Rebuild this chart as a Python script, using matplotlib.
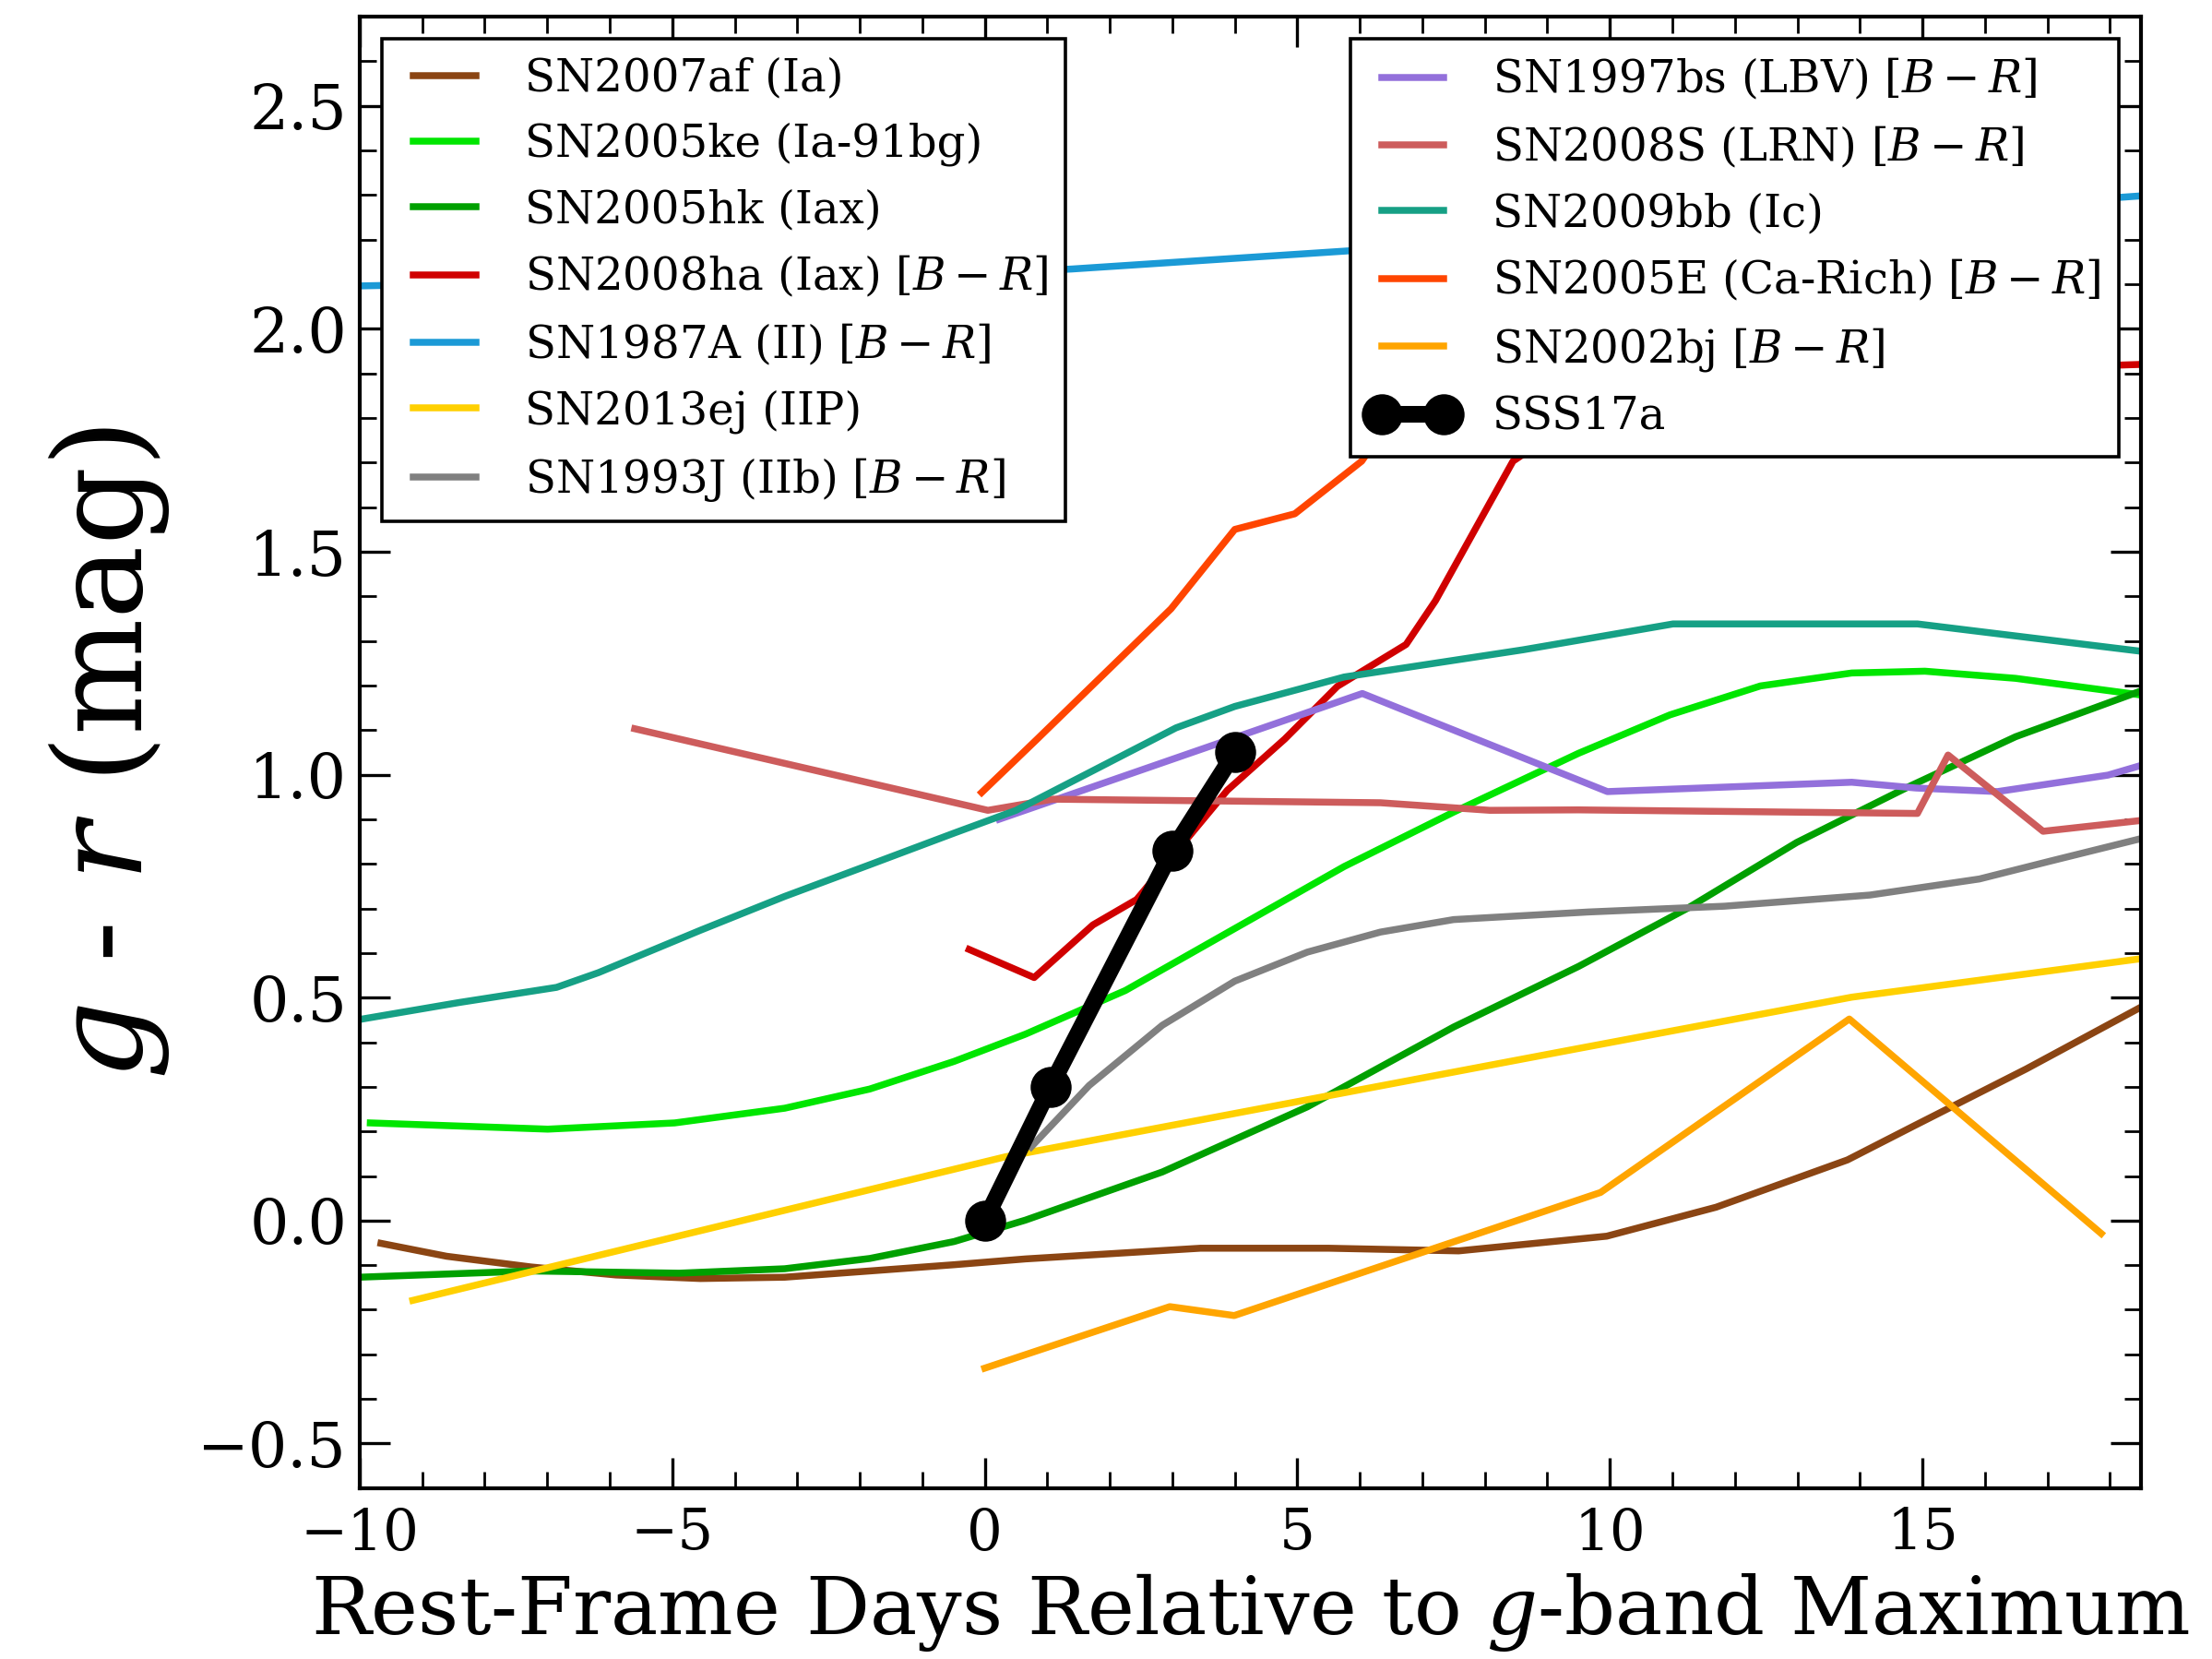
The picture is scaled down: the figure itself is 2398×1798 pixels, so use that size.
import matplotlib
matplotlib.use("Agg")
import matplotlib.pyplot as plt
from matplotlib.ticker import MultipleLocator

plt.rcParams['font.family'] = 'DejaVu Serif'
plt.rcParams['mathtext.fontset'] = 'dejavuserif'

# colour curves (days, g-r mag)
x_07af = [-9.66, -8.61, -7.26, -5.9, -4.55, -3.2, -1.84, -0.49, 0.65, 3.45, 5.5, 7.58, 9.95, 11.7, 13.8, 14.86, 16.66, 18.5]
y_07af = [-0.051, -0.08, -0.104, -0.122, -0.13, -0.127, -0.113, -0.099, -0.086, -0.062, -0.062, -0.068, -0.035, 0.03, 0.136, 0.212, 0.34, 0.479]

x_05ke = [-9.83, -6.99, -4.96, -3.2, -1.84, -0.49, 0.65, 2.25, 4.0, 5.75, 7.5, 9.5, 10.96, 12.41, 13.87, 15.04, 16.49, 18.48]
y_05ke = [0.219, 0.205, 0.219, 0.252, 0.295, 0.357, 0.418, 0.516, 0.655, 0.794, 0.916, 1.048, 1.134, 1.199, 1.228, 1.232, 1.216, 1.179]

x_05hk = [-10, -7.26, -4.89, -3.2, -1.84, -0.49, 0.65, 2.84, 5.16, 7.5, 9.5, 11.25, 12.99, 14.75, 16.49, 18.48]
y_05hk = [-0.127, -0.113, -0.118, -0.108, -0.085, -0.047, 0.001, 0.109, 0.255, 0.434, 0.57, 0.701, 0.848, 0.971, 1.085, 1.187]

x_08ha = [-0.25, 0.79, 1.73, 2.43, 3.88, 4.8, 5.64, 6.74, 7.21, 8.45, 10.0, 14.0, 18.5]
y_08ha = [0.608, 0.545, 0.663, 0.72, 0.965, 1.08, 1.198, 1.292, 1.39, 1.703, 1.85, 1.9, 1.92]

x_87A = [-10, -5, 0, 1.4, 5.75, 10, 15, 18.5]
y_87A = [2.096, 2.11, 2.124, 2.134, 2.174, 2.215, 2.263, 2.298]

x_13ej = [-9.15, 0.33, 5.16, 9.5, 13.87, 18.48]
y_13ej = [-0.179, 0.143, 0.271, 0.386, 0.501, 0.587]

x_93J = [0.74, 1.67, 2.84, 4.0, 5.16, 6.33, 7.5, 9.65, 11.83, 14.16, 15.91, 17.07, 18.48]
y_93J = [0.165, 0.303, 0.438, 0.537, 0.602, 0.647, 0.675, 0.692, 0.705, 0.73, 0.766, 0.807, 0.856]

x_97bs = [0.23, 6.04, 9.96, 13.87, 14.9, 16.2, 17.97, 18.48]
y_97bs = [0.9, 1.182, 0.962, 0.983, 0.97, 0.962, 0.999, 1.02]

x_08S = [-5.6, 0.05, 1.09, 6.33, 8.08, 9.5, 14.92, 15.41, 16.93, 18.48]
y_08S = [1.103, 0.92, 0.945, 0.937, 0.92, 0.921, 0.913, 1.044, 0.873, 0.897]

x_09bb = [-10, -8.41, -6.85, -6.18, -4.55, -3.2, -1.84, -0.49, 0.5, 3.06, 4.0, 5.75, 8.61, 9.65, 11.01, 14.92, 18.48]
y_09bb = [0.451, 0.489, 0.523, 0.556, 0.651, 0.727, 0.798, 0.869, 0.92, 1.105, 1.153, 1.219, 1.28, 1.305, 1.338, 1.338, 1.277]

x_05E = [-0.05, 0.84, 2.98, 4.0, 4.96, 6.03, 7.0]
y_05E = [0.96, 1.08, 1.372, 1.55, 1.585, 1.703, 1.9]

x_02bj = [0.0, 2.96, 3.99, 9.85, 13.83, 17.86]
y_02bj = [-0.331, -0.193, -0.213, 0.063, 0.452, -0.029]

x_sss = [0.0, 1.05, 3.0, 4.0]
y_sss = [0.0, 0.30, 0.83, 1.05]

fig = plt.figure(figsize=(11.99, 8.99), dpi=200)
ax = fig.add_axes([0.1626, 0.103, 0.8054, 0.887])

lw = 2.7
l1, = ax.plot(x_07af, y_07af, color='#8b4513', lw=lw, label='SN2007af (Ia)')
l2, = ax.plot(x_05ke, y_05ke, color='#00e600', lw=lw, label='SN2005ke (Ia-91bg)')
l3, = ax.plot(x_05hk, y_05hk, color='#00a000', lw=lw, label='SN2005hk (Iax)')
l4, = ax.plot(x_08ha, y_08ha, color='#d00000', lw=lw, label=r'SN2008ha (Iax) [$B-R$]')
l5, = ax.plot(x_87A, y_87A, color='#1b9ad6', lw=lw, label=r'SN1987A (II) [$B-R$]')
l6, = ax.plot(x_13ej, y_13ej, color='#ffd000', lw=lw, label='SN2013ej (IIP)')
l7, = ax.plot(x_93J, y_93J, color='#808080', lw=lw, label=r'SN1993J (IIb) [$B-R$]')
r1, = ax.plot(x_97bs, y_97bs, color='#9370db', lw=lw, label=r'SN1997bs (LBV) [$B-R$]')
r2, = ax.plot(x_08S, y_08S, color='#cd5c5c', lw=lw, label=r'SN2008S (LRN) [$B-R$]')
r3, = ax.plot(x_09bb, y_09bb, color='#16a085', lw=lw, label='SN2009bb (Ic)')
r4, = ax.plot(x_05E, y_05E, color='#ff4500', lw=lw, label=r'SN2005E (Ca-Rich) [$B-R$]')
r5, = ax.plot(x_02bj, y_02bj, color='#ffa500', lw=lw, label=r'SN2002bj [$B-R$]')
r6, = ax.plot(x_sss, y_sss, color='k', lw=6.5, marker='o', ms=15, label='SSS17a', zorder=10)

ax.set_xlim(-10, 18.5)
ax.set_ylim(-0.6, 2.7)
ax.xaxis.set_major_locator(MultipleLocator(5))
ax.xaxis.set_minor_locator(MultipleLocator(1))
ax.yaxis.set_major_locator(MultipleLocator(0.5))
ax.yaxis.set_minor_locator(MultipleLocator(0.1))
ax.tick_params(which='both', direction='in', top=True, right=True)
ax.tick_params(which='major', length=12, width=1.2)
ax.tick_params(which='minor', length=6.5, width=1)
ax.tick_params(axis='x', which='major', labelsize=22, pad=7)
ax.tick_params(axis='y', which='major', labelsize=24, pad=5)
for s in ax.spines.values():
    s.set_linewidth(1.5)

ax.set_xlabel(r'Rest-Frame Days Relative to $g$-band Maximum', fontsize=31, labelpad=4)
ax.set_ylabel(r'$g$ - $r$ (mag)', fontsize=48, labelpad=10)

leg1 = ax.legend(handles=[l1, l2, l3, l4, l5, l6, l7], loc='upper left', fontsize=17.4,
                 fancybox=False, edgecolor='k', framealpha=1, numpoints=2)
leg1.get_frame().set_linewidth(1.3)
ax.add_artist(leg1)
leg2 = ax.legend(handles=[r1, r2, r3, r4, r5, r6], loc='upper right', fontsize=17.4,
                 fancybox=False, edgecolor='k', framealpha=1, numpoints=2)
leg2.get_frame().set_linewidth(1.3)
leg2.set_zorder(20)
leg1.set_zorder(20)

plt.savefig('out.png', dpi=200)
